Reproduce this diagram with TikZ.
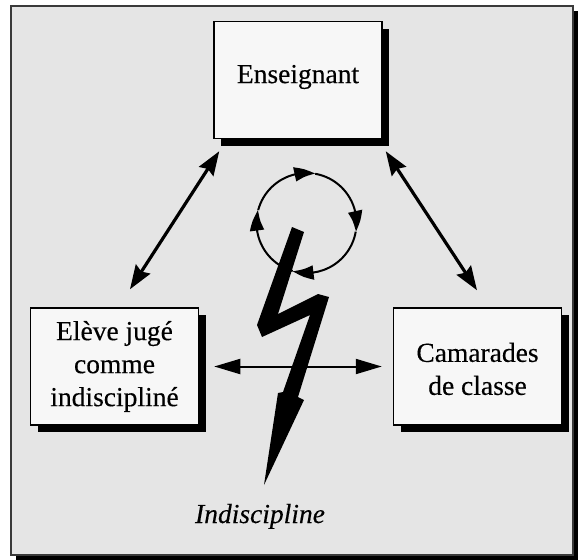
\documentclass[tikz,border=0pt]{standalone}
\usepackage{fontspec}
\setmainfont[FakeBold=0.3]{Liberation Serif}
\usetikzlibrary{arrows.meta,bending,calc,shadows}

\definecolor{panel}{HTML}{E5E5E5}
\definecolor{boxfill}{HTML}{F7F7F7}
\definecolor{rim}{HTML}{3A3A3A}

\begin{document}
\begin{tikzpicture}[x=1pt,y=-1pt,
  actor/.style={draw=black, line width=1.5pt, fill=boxfill,
    minimum width=168pt, minimum height=117pt, inner sep=0pt,
    align=center, font=\fontsize{27.5}{33}\selectfont,
    general shadow={fill=black, shadow xshift=7pt, shadow yshift=-7pt}},
  link/.style={line width=3.2pt,
    {Stealth[length=24pt,width=17pt,inset=3pt]}-{Stealth[length=24pt,width=17pt,inset=3pt]}},
  flow/.style={line width=2pt,
    {Triangle[length=26pt,width=15pt]}-{Triangle[length=26pt,width=15pt]}},
  loopseg/.style={line width=2pt, -{Triangle[length=21pt,width=14pt,bend]}},
  caption/.style={font=\fontsize{27.5}{33}\selectfont\itshape, inner sep=0pt, anchor=base}
]
\useasboundingbox (0,0) rectangle (579,560);

% framed panel with its dark shadow
\fill[black] (16,11) rectangle (578,560);
\filldraw[fill=panel, draw=rim, line width=1.2pt] (11,6) rectangle (573,555);

% the three actors
\node[actor] (ens) at (298,80) {Enseignant\rule[-12pt]{0pt}{0pt}};
\node[actor] (eleve) at (114.5,366.5) {Elève jugé\\comme\\indiscipliné};
\node[actor] (cam) at (477.5,366.5) {\rule{0pt}{24pt}Camarades\\de classe};

% arrow end points
\coordinate (e1) at ($(ens.south west)+(6,12)$);
\coordinate (s1) at ($(eleve.north)+(15.5,-18)$);
\coordinate (e2) at ($(ens.south east)+(3,12)$);
\coordinate (c2) at ($(cam.north)+(-0.5,-17)$);
\coordinate (s3) at ($(eleve.east)+(15,0)$);
\coordinate (c3) at ($(cam.west)+(-11,0)$);

\draw[link] (e1) -- (s1);
\draw[link] (e2) -- (c2);
\draw[flow] (s3) -- (c3);

% clockwise cycle
\coordinate (hub) at (306.5,223);
\begin{scope}[shift={(hub)}, y=1pt]
  \draw[loopseg] (165:50pt) arc[start angle=165, end angle=80, radius=50pt];
  \draw[loopseg] (80:50pt) arc[start angle=80, end angle=-10, radius=50pt];
  \draw[loopseg] (-10:50pt) arc[start angle=-10, end angle=-106, radius=50pt];
  \draw[loopseg] (-106:50pt) arc[start angle=-106, end angle=-195, radius=50pt];
\end{scope}

% lightning bolt
\fill[black] (292,227) -- (304,232) -- (278,314) -- (318,294) -- (329,297)
  -- (298,397) -- (304,400) -- (264,485) -- (278,393) -- (283,392)
  -- (310,315) -- (262,337) -- (257,325) -- cycle;

\node[caption] (indisc) at (260,523) {Indiscipline};
\end{tikzpicture}
\end{document}
